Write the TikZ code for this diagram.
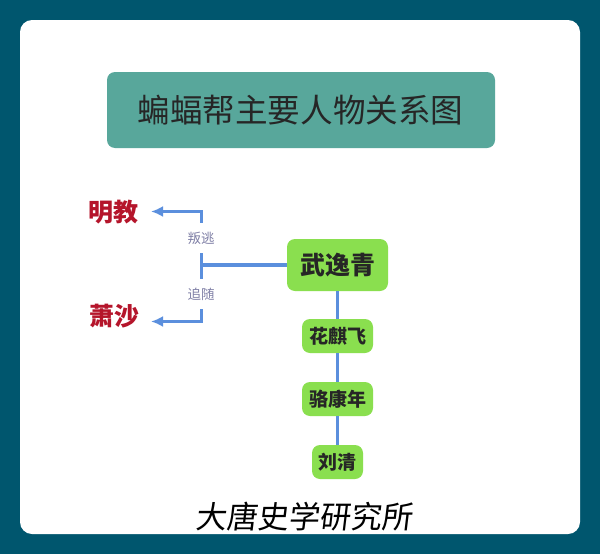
\documentclass[tikz,border=0pt]{standalone}
\usepackage{fontspec}
\setmainfont{Noto Sans CJK SC}
\newfontfamily\cjkslant[FakeSlant=0.12]{Noto Sans CJK SC}
\usetikzlibrary{arrows.meta}
\definecolor{pagebg}{HTML}{00566E}
\definecolor{titlebg}{HTML}{58A79B}
\definecolor{boxgreen}{HTML}{8ADF4F}
\definecolor{linkblue}{HTML}{5B8FDD}
\definecolor{redtxt}{HTML}{B5152B}
\definecolor{labeltxt}{HTML}{7F7FA6}
\tikzset{
  person/.style={fill=boxgreen,draw=none,rounded corners=8pt,inner sep=0pt,font=\bfseries\fontsize{19}{19}\selectfont,text=black!85},
  titlebox/.style={fill=titlebg,draw=none,rounded corners=8pt,inner sep=0pt,font=\fontsize{32.6}{33}\selectfont,text=black!85},
  faction/.style={inner sep=0pt,font=\bfseries\fontsize{25}{25}\selectfont,text=redtxt},
  rel/.style={fill=white,inner sep=0pt,minimum width=36pt,minimum height=30pt,font=\fontsize{13.5}{14}\selectfont,text=labeltxt},
  trunk/.style={draw=linkblue,line width=3.6pt},
  link/.style={draw=linkblue,line width=2.5pt},
  arrowlink/.style={draw=linkblue,line width=2.5pt,-{Latex[length=12pt,width=11pt]}}
}
\begin{document}
\begin{tikzpicture}[x=1pt,y=-1pt]
\useasboundingbox (0,0) rectangle (600,554);
\fill[pagebg] (0,0) rectangle (600,554);
\fill[white,rounded corners=12pt] (20,20) rectangle (580,534);
\node[titlebox,minimum width=388pt,minimum height=76pt] (title) at (301,110) {\kern-1pt蝙蝠帮主要人物关系图};
\node[person,minimum width=101pt,minimum height=52pt,font=\bfseries\fontsize{25}{25}\selectfont] (wu) at (337.5,265) {武逸青};
\node[person,minimum width=71pt,minimum height=34pt] (hua) at (337.5,336) {花麒飞};
\node[person,minimum width=71pt,minimum height=34pt] (luo) at (337.5,399) {骆康年};
\node[person,minimum width=51pt,minimum height=34pt] (liu) at (337.5,462) {刘清};
\node[faction] (ming) at (113,212) {明教};
\node[faction] (xiao) at (114,316) {萧沙};
\coordinate (junc) at (201.5,265);
\coordinate (upper) at (201.5,211.5);
\coordinate (lower) at (201.5,321.5);
\coordinate (mingend) at (151,211.5);
\coordinate (xiaoend) at (151,321.5);
\draw[trunk] (wu.west) -- (junc);
\draw[link] (wu) -- (hua);
\draw[link] (hua) -- (luo);
\draw[link] (luo) -- (liu);
\draw[arrowlink] (junc) -- (upper) -- (mingend);
\draw[arrowlink] (junc) -- (lower) -- (xiaoend);
\node[rel] (pan) at (201,238) {叛逃};
\node[rel] (zhui) at (201,294) {追随};
\node[inner sep=0pt,font=\cjkslant\fontsize{31}{31}\selectfont,text=black] (mark) at (304,517) {大唐史学研究所};
\end{tikzpicture}
\end{document}
